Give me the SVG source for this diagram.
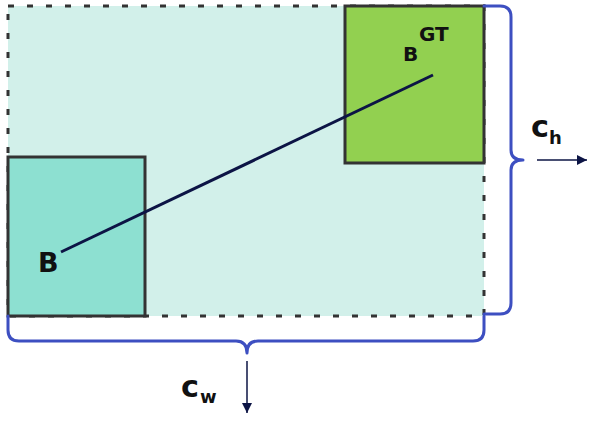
<svg xmlns="http://www.w3.org/2000/svg" width="590" height="421" viewBox="0 0 590 421">
<style>
.lbl{font-family:"DejaVu Sans","Verdana",sans-serif;font-weight:700;fill:#111}
.box{stroke:#333;stroke-width:3}
.brace{fill:none;stroke:#3d4fc1;stroke-width:3;stroke-linecap:round;stroke-linejoin:round}
.arr{stroke:#0c1445;stroke-width:1.5;fill:none}
</style>
<defs>
<marker id="ah" viewBox="0 0 10 10" refX="10" refY="5" markerWidth="10" markerHeight="10" markerUnits="userSpaceOnUse" orient="auto">
<path d="M0,0 L10,5 L0,10 z" fill="#0c1445"/>
</marker>
</defs>
<rect width="590" height="421" fill="#fff"/>
<g id="region">
<rect x="8" y="6" width="476" height="310" fill="#d2f0ea" stroke="#333" stroke-width="3" stroke-dasharray="6 13"/>
</g>
<g id="gt-box">
<rect class="box" x="345" y="6" width="139" height="157" fill="#92d050"/>
<text class="lbl" x="403" y="61" font-size="20">B</text>
<text class="lbl" x="419" y="41" font-size="20">GT</text>
</g>
<g id="b-box">
<rect class="box" x="8" y="157" width="137" height="159" fill="#8de0d1"/>
<text class="lbl" x="38" y="272" font-size="27">B</text>
</g>
<g id="connectors">
<line x1="61" y1="252" x2="433" y2="75" stroke="#0c1445" stroke-width="3"/>
<path class="brace" d="M484,6 H500 Q511,6 511,17 V150 Q511,160 523,160 Q511,160 511,170 V303 Q511,314 500,314 H484"/>
<path class="brace" d="M8,316 V330 Q8,341 19,341 H236 Q247,341 247,353 Q247,341 258,341 H473 Q484,341 484,330 V316"/>
<line class="arr" x1="247" y1="361" x2="247" y2="413" marker-end="url(#ah)"/>
<line class="arr" x1="537" y1="160" x2="587" y2="160" marker-end="url(#ah)"/>
</g>
<g id="cw">
<text class="lbl" x="181" y="397" font-size="30" textLength="18" lengthAdjust="spacingAndGlyphs">c</text>
<text class="lbl" x="200" y="403" font-size="18">w</text>
</g>
<g id="ch">
<text class="lbl" x="531" y="137" font-size="30" textLength="18" lengthAdjust="spacingAndGlyphs">c</text>
<text class="lbl" x="549" y="144" font-size="18">h</text>
</g>
</svg>
